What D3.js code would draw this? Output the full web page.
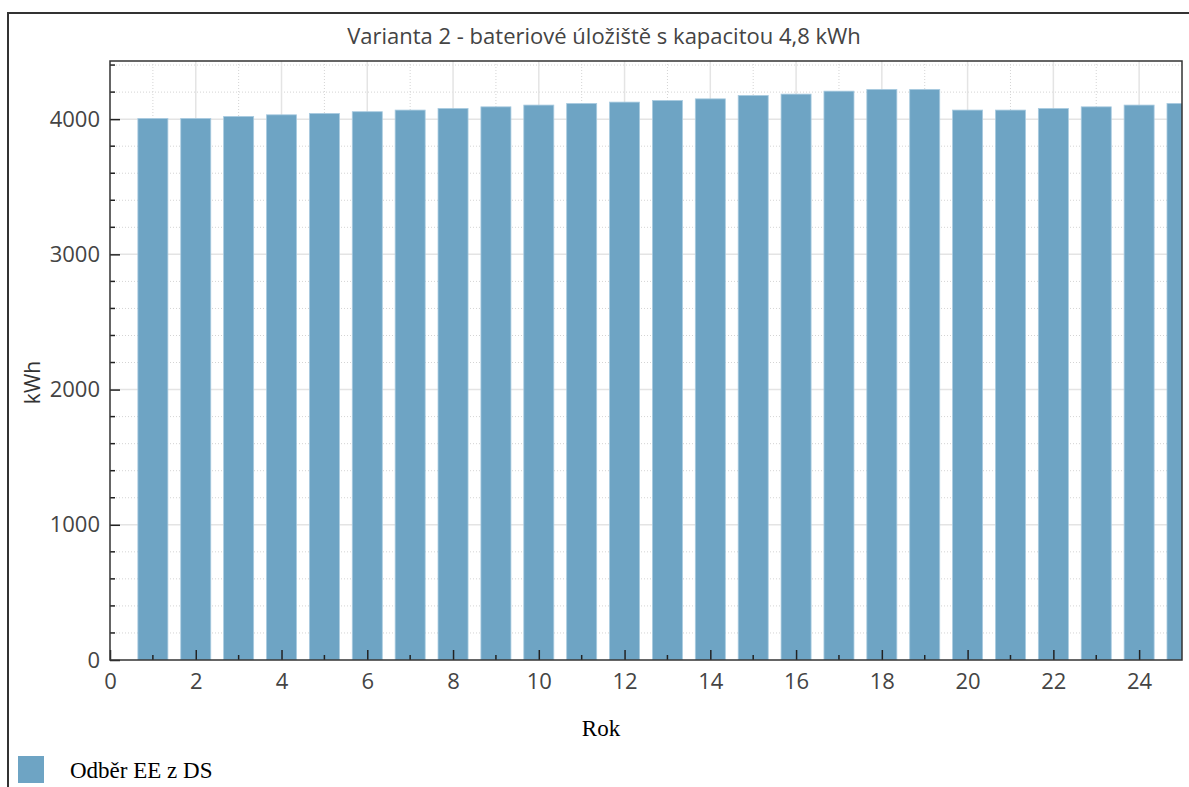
<!DOCTYPE html>
<html>
<head>
<meta charset="utf-8">
<script src="https://cdn.jsdelivr.net/npm/d3@7"></script>
<style>
  body { margin: 0; background: #fff; }
  svg { display: block; }
  .tick text { font-family: "Open Sans", sans-serif; fill: #444; }
</style>
</head>
<body>
<svg id="chart" width="1189" height="787"></svg>
<script>
// data
var years = [1, 2, 3, 4, 5, 6, 7, 8, 9, 10, 11, 12, 13, 14, 15, 16, 17, 18, 19, 20, 21, 22, 23, 24, 25];
var odber = [4005, 4005, 4020, 4032, 4042, 4055, 4067, 4079, 4091, 4104, 4116, 4126, 4138, 4150,
             4175, 4185, 4207, 4220, 4220, 4067, 4067, 4079, 4091, 4104, 4116];
var yTicks = [0, 1000, 2000, 3000, 4000];
var xTicks = [0, 2, 4, 6, 8, 10, 12, 14, 16, 18, 20, 22, 24];
var title = 'Varianta 2 - bateriové úložiště s kapacitou 4,8 kWh';
var seriesName = 'Odběr EE z DS';

var svg = d3.select('#chart');
var barColor = '#6ea4c4';

var plot = { left: 110, top: 61, right: 1182, bottom: 660 };

var x = d3.scaleLinear().domain([0, 25]).range([plot.left, plot.right]);
var y = d3.scaleLinear().domain([0, 4430]).range([plot.bottom, plot.top]);

// outer frame
svg.append('path')
  .attr('d', 'M8,787 L8,13 L1189,13')
  .attr('fill', 'none')
  .attr('stroke', '#333')
  .attr('stroke-width', 2);

// title
svg.append('text')
  .attr('x', 604)
  .attr('y', 44)
  .attr('text-anchor', 'middle')
  .style('font-family', '"Open Sans", sans-serif')
  .style('font-size', '22px')
  .style('fill', '#444')
  .text(title);

svg.append('clipPath').attr('id', 'plotclip')
  .append('rect')
  .attr('x', plot.left).attr('y', plot.top)
  .attr('width', plot.right - plot.left).attr('height', plot.bottom - plot.top);

var grid = svg.append('g');
var yMinor = d3.range(200, 4430, 200).filter(function(d) { return d % 1000 !== 0; });
var xMinor = d3.range(1, 25, 2);

// minor grid (dotted)
grid.selectAll('.ymin')
  .data(yMinor)
  .enter().append('line')
  .attr('x1', plot.left).attr('x2', plot.right)
  .attr('y1', function(d) { return y(d); }).attr('y2', function(d) { return y(d); })
  .attr('stroke', '#d4d4d4')
  .attr('stroke-dasharray', '1,2');

grid.selectAll('.xmin')
  .data(xMinor)
  .enter().append('line')
  .attr('y1', plot.top).attr('y2', plot.bottom)
  .attr('x1', function(d) { return x(d); }).attr('x2', function(d) { return x(d); })
  .attr('stroke', '#d4d4d4')
  .attr('stroke-dasharray', '1,2');

// major grid (solid)
grid.selectAll('.ymaj')
  .data(yTicks.slice(1))
  .enter().append('line')
  .attr('x1', plot.left).attr('x2', plot.right)
  .attr('y1', function(d) { return y(d); }).attr('y2', function(d) { return y(d); })
  .attr('stroke', '#e4e4e4')
  .attr('stroke-width', 1.5);

grid.selectAll('.xmaj')
  .data(xTicks.slice(1))
  .enter().append('line')
  .attr('y1', plot.top).attr('y2', plot.bottom)
  .attr('x1', function(d) { return x(d); }).attr('x2', function(d) { return x(d); })
  .attr('stroke', '#e4e4e4')
  .attr('stroke-width', 1.5);

// bars
var barW = x(0.7) - x(0);
svg.append('g')
  .attr('clip-path', 'url(#plotclip)')
  .selectAll('rect')
  .data(years)
  .enter().append('rect')
  .attr('x', function(d) { return x(d) - barW / 2; })
  .attr('width', barW)
  .attr('y', function(d, i) { return y(odber[i]); })
  .attr('height', function(d, i) { return y(0) - y(odber[i]); })
  .attr('fill', barColor)
  .attr('stroke', '#a9cbe0')
  .attr('stroke-width', 0.8);

// minor ticks (inside)
svg.append('g').selectAll('line')
  .data(yMinor)
  .enter().append('line')
  .attr('x1', plot.left).attr('x2', plot.left + 5)
  .attr('y1', function(d) { return y(d); }).attr('y2', function(d) { return y(d); })
  .attr('stroke', '#222').attr('stroke-width', 1.5);

svg.append('g').selectAll('line')
  .data(xMinor)
  .enter().append('line')
  .attr('y1', plot.bottom).attr('y2', plot.bottom - 5)
  .attr('x1', function(d) { return x(d); }).attr('x2', function(d) { return x(d); })
  .attr('stroke', '#222').attr('stroke-width', 1.5);

// axes
var yAxis = svg.append('g')
  .attr('transform', 'translate(' + plot.left + ',0)')
  .call(d3.axisLeft(y).tickValues(yTicks).tickFormat(d3.format('d'))
    .tickSizeInner(-10).tickSizeOuter(0).tickPadding(10));
var xAxis = svg.append('g')
  .attr('transform', 'translate(0,' + plot.bottom + ')')
  .call(d3.axisBottom(x).tickValues(xTicks).tickFormat(d3.format('d'))
    .tickSizeInner(-10).tickSizeOuter(0).tickPadding(13));

[yAxis, xAxis].forEach(function(a) {
  a.select('.domain').remove();
  a.selectAll('.tick line').attr('stroke', '#222').attr('stroke-width', 1.5);
  a.selectAll('.tick text').style('font-size', '22px');
});

// plot frame
svg.append('rect')
  .attr('x', plot.left).attr('y', plot.top)
  .attr('width', plot.right - plot.left).attr('height', plot.bottom - plot.top)
  .attr('fill', 'none')
  .attr('stroke', '#333')
  .attr('stroke-width', 1.5);

// axis titles
svg.append('text')
  .attr('transform', 'translate(40,' + ((plot.top + plot.bottom) / 2 + 22) + ') rotate(-90)')
  .attr('text-anchor', 'middle')
  .style('font-family', '"Open Sans", sans-serif')
  .style('font-size', '21px')
  .style('fill', '#333')
  .text('kWh');

svg.append('text')
  .attr('x', 601)
  .attr('y', 736)
  .attr('text-anchor', 'middle')
  .style('font-family', '"Liberation Serif", serif')
  .style('font-size', '23px')
  .style('fill', '#000')
  .text('Rok');

// legend
svg.append('rect')
  .attr('x', 18).attr('y', 756)
  .attr('width', 26).attr('height', 27)
  .attr('fill', barColor);
svg.append('text')
  .attr('x', 70)
  .attr('y', 778)
  .style('font-family', '"Liberation Serif", serif')
  .style('font-size', '23px')
  .style('fill', '#000')
  .text(seriesName);
</script>
</body>
</html>
